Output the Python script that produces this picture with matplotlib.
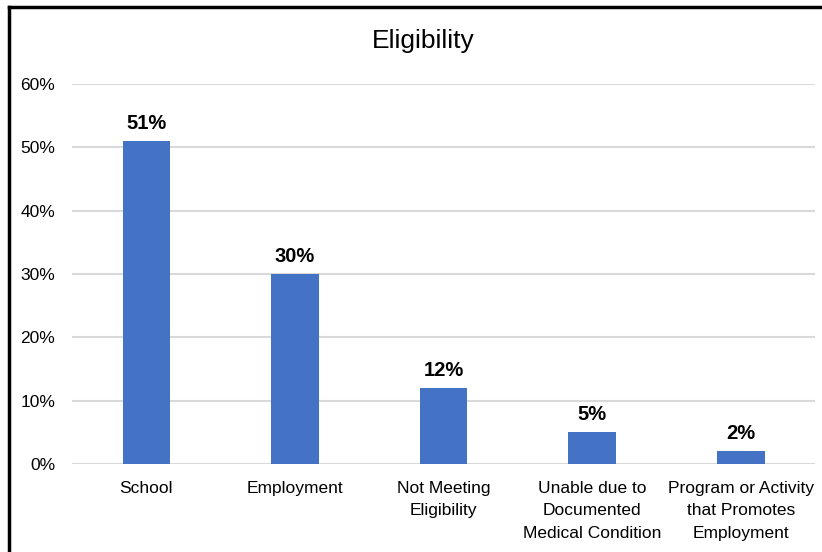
import matplotlib.pyplot as plt
from matplotlib.lines import Line2D
from matplotlib.ticker import PercentFormatter

plt.rcParams['font.family'] = ['Liberation Sans', 'DejaVu Sans']

categories = [
    "School",
    "Employment",
    "Not Meeting\nEligibility",
    "Unable due to\nDocumented\nMedical Condition",
    "Program or Activity\nthat Promotes\nEmployment",
]
shares = [51, 30, 12, 5, 2]
yticks = [0, 10, 20, 30, 40, 50, 60]

bar_color = "#4472C4"
grid_color = "#D9D9D9"

fig = plt.figure(figsize=(8.22, 5.52), dpi=100)
ax = fig.add_axes([0.0876, 0.1594, 0.904, 0.6884])

x = range(len(categories))
bars = ax.bar(x, shares, width=0.32, color=bar_color, zorder=3)

for rect, val in zip(bars, shares):
    ax.annotate(f"{val}%", (rect.get_x() + rect.get_width() / 2, rect.get_height()),
                xytext=(0, 6), textcoords="offset points",
                ha="center", va="bottom", fontsize=14.5, fontweight="bold")

ax.set_xlim(-0.5, len(categories) - 0.5)
ax.set_ylim(0, 60)
ax.set_yticks(yticks)
ax.yaxis.set_major_formatter(PercentFormatter(decimals=0))
ax.set_xticks(list(x))
ax.set_xticklabels(categories, linespacing=1.62)
ax.tick_params(axis="both", length=0, labelsize=12.5)
ax.tick_params(axis="x", pad=12)
ax.tick_params(axis="y", pad=12)

ax.grid(axis="y", color=grid_color, linewidth=1.5, zorder=0)
for side in ["top", "right", "left", "bottom"]:
    ax.spines[side].set_visible(False)

fig.text(0.515, 0.925, "Eligibility", ha="center", va="center", fontsize=19)

# moldura parcial do gráfico (só topo e esquerda aparecem no recorte)
fig.add_artist(Line2D([0.011, 1.0], [0.987, 0.987], color="black", linewidth=2.5,
                      transform=fig.transFigure))
fig.add_artist(Line2D([0.011, 0.011], [0.0, 0.987], color="black", linewidth=2.5,
                      transform=fig.transFigure))

fig.savefig("out.png", dpi=100)
